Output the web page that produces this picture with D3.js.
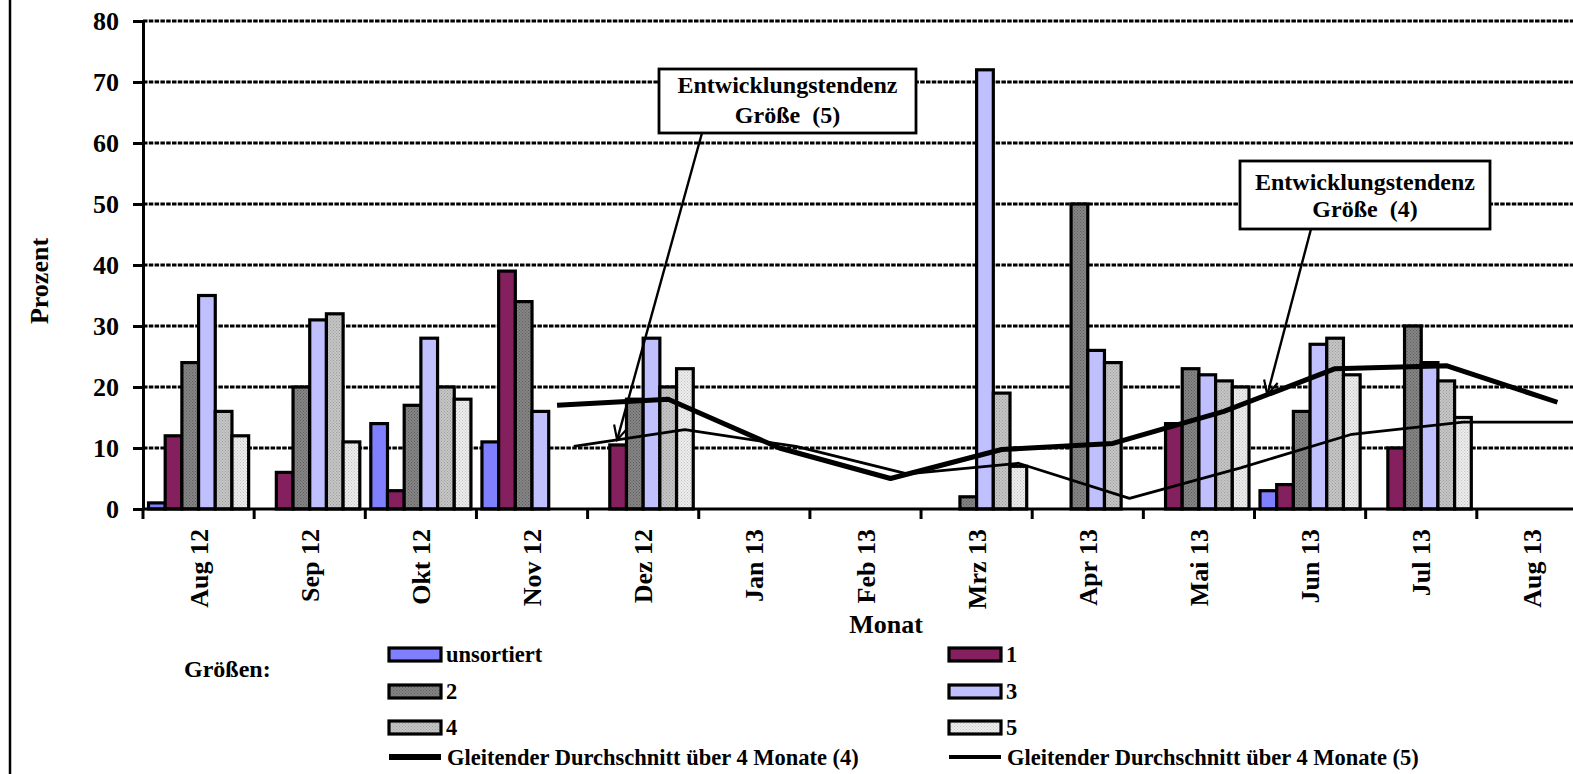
<!DOCTYPE html>
<html><head><meta charset="utf-8">
<script src="https://cdn.jsdelivr.net/npm/d3@7"></script>
<style>
body{margin:0;background:#fff}
svg{display:block}
text{font-family:"Liberation Serif","Times New Roman",serif;font-weight:bold;fill:#000}
</style>
</head><body>
<svg id="chart" width="1573" height="774"></svg>
<script>
// ---------- data ----------
const months = ["Aug 12","Sep 12","Okt 12","Nov 12","Dez 12","Jan 13","Feb 13","Mrz 13","Apr 13","Mai 13","Jun 13","Jul 13","Aug 13"];
const seriesNames = ["unsortiert","1","2","3","4","5"];
const valUnsortiert = [1,null,14,11,null,null,null,null,null,null,3,null,null];
const valSize1      = [12,6,3,39,10.5,null,null,null,null,14,4,10,null];
const valSize2      = [24,20,17,34,18,null,null,2,50,23,16,30,null];
const valSize3      = [35,31,28,16,28,null,null,72,26,22,27,24,null];
const valSize4      = [16,32,20,null,20,null,null,19,24,21,28,21,null];
const valSize5      = [12,11,18,null,23,null,null,7,null,20,22,15,null];
const movAvg4       = [null,null,null,17,18,10,5,9.75,10.75,16,23,23.5,17.5];
const movAvg5       = [null,null,null,10.25,13,10.25,5.75,7.5,1.75,6.75,12.25,14.25,14.25];
const yTicks = [0,10,20,30,40,50,60,70,80];
const legendTitle = "Größen:";
const legendLineLabels = ["Gleitender Durchschnitt über 4 Monate (4)","Gleitender Durchschnitt über 4 Monate (5)"];
const annoLabels = [["Entwicklungstendenz","Größe  (5)"],["Entwicklungstendenz","Größe  (4)"]];

const seriesValues = [valUnsortiert,valSize1,valSize2,valSize3,valSize4,valSize5];
const fills = ["#8080ff","#85205e","url(#pat2)","#c0c0ff","url(#pat4)","url(#pat5)"];

// ---------- layout ----------
const svg = d3.select("#chart");
const W = 1573, H = 774;
const x0 = 143, plotRight = 143 + 13*111.15;
const x = d3.scaleBand().domain(months).range([x0, plotRight]).paddingInner(0).paddingOuter(0);
const bw = x.bandwidth();
const x1 = d3.scaleBand().domain(seriesNames).range([5.5, bw-5.5]).padding(0);
const y = d3.scaleLinear().domain([0,80]).range([509,21]);

// patterns
const defs = svg.append("defs");
function dotPattern(id, base, dot){
  const p = defs.append("pattern").attr("id",id).attr("patternUnits","userSpaceOnUse").attr("width",3).attr("height",3);
  p.append("rect").attr("width",3).attr("height",3).attr("fill",base);
  p.append("rect").attr("x",0).attr("y",0).attr("width",1).attr("height",1).attr("fill",dot);
  p.append("rect").attr("x",1.5).attr("y",1.5).attr("width",1).attr("height",1).attr("fill",dot);
}
dotPattern("pat2","#858585","#5e5e5e");
dotPattern("pat4","#c6c6c6","#9c9c9c");
dotPattern("pat5","#ededed","#c2c2c2");
defs.append("marker").attr("id","arrow").attr("markerUnits","userSpaceOnUse")
  .attr("markerWidth",20).attr("markerHeight",20).attr("refX",15).attr("refY",8).attr("orient","auto")
  .append("path").attr("d","M1,1 L15,8 L1,15").attr("fill","none").attr("stroke","#000").attr("stroke-width",2.2);

// left border
svg.append("line").attr("x1",10).attr("x2",10).attr("y1",0).attr("y2",H).attr("stroke","#000").attr("stroke-width",2.5);

// gridlines
svg.append("g").selectAll("line").data(yTicks.filter(d=>d>0)).join("line")
  .attr("x1",x0).attr("x2",W).attr("y1",d=>y(d)).attr("y2",d=>y(d))
  .attr("stroke","#000").attr("stroke-width",3).attr("stroke-dasharray","4.5,1.3");

// y axis
const yAxis = svg.append("g").attr("transform",`translate(${x0},0)`)
  .call(d3.axisLeft(y).tickValues(yTicks).tickSize(10).tickSizeOuter(0).tickPadding(14));
yAxis.select(".domain").attr("stroke","#000").attr("stroke-width",3);
yAxis.selectAll(".tick line").attr("stroke","#000").attr("stroke-width",3);
yAxis.selectAll(".tick text").style("font-size","26px").style("font-family","'Liberation Serif',serif").style("font-weight","bold");

// bars
const barG = svg.append("g");
seriesNames.forEach((s,i)=>{
  barG.append("g").selectAll("rect")
    .data(months.map((m,j)=>({m,v:seriesValues[i][j]})).filter(d=>d.v!=null))
    .join("rect")
    .attr("x",d=>x(d.m)+x1(s)).attr("width",x1.bandwidth())
    .attr("y",d=>y(d.v)).attr("height",d=>y(0)-y(d.v))
    .attr("fill",fills[i]).attr("stroke","#000").attr("stroke-width",3.2);
});

// x axis
svg.append("line").attr("x1",x0).attr("x2",W).attr("y1",y(0)).attr("y2",y(0)).attr("stroke","#000").attr("stroke-width",3);
const bounds = months.map(m=>x(m)).concat([x(months[months.length-1])+bw]);
svg.append("g").selectAll("line").data(bounds).join("line")
  .attr("x1",d=>d).attr("x2",d=>d).attr("y1",y(0)).attr("y2",y(0)+10)
  .attr("stroke","#000").attr("stroke-width",3);
svg.append("g").selectAll("text").data(months).join("text")
  .attr("transform",d=>`translate(${x(d)+bw/2},529) rotate(-90)`)
  .attr("text-anchor","end").attr("dy","0.35em").style("font-size","26px").style("white-space","pre")
  .text(d=>d);

// axis titles
svg.append("text").attr("transform","translate(39,281) rotate(-90)").attr("text-anchor","middle")
  .attr("dy","0.35em").style("font-size","26px").text("Prozent");
svg.append("text").attr("x",886).attr("y",633).attr("text-anchor","middle").style("font-size","26px").text("Monat");

// moving average lines
const lineFor = (serie, arr) => d3.line()
  .defined(d=>d!=null)
  .x((d,j)=>x(months[j])+x1(serie)+x1.bandwidth()/2)
  .y(d=>y(d))(arr);
svg.append("path").attr("d",lineFor("4",movAvg4)).attr("fill","none").attr("stroke","#000").attr("stroke-width",5).attr("stroke-linejoin","round");
svg.append("path").attr("d",lineFor("5",movAvg5)).attr("fill","none").attr("stroke","#000").attr("stroke-width",2.8).attr("stroke-linejoin","round");

// annotations
function pointOn(serie, arr, j, t){
  const xa = x(months[j])+x1(serie)+x1.bandwidth()/2, xb = x(months[j+1])+x1(serie)+x1.bandwidth()/2;
  return [xa+(xb-xa)*t, y(arr[j]+(arr[j+1]-arr[j])*t)];
}
const annos = [
  {box:[659,69,257,64], from:[702,133], to:pointOn("5",movAvg5,3,0.39), lines:annoLabels[0], base:[93,123]},
  {box:[1240,161,250,68], from:[1311,229], to:pointOn("4",movAvg4,9,0.39), lines:annoLabels[1], base:[190,217]}
];
annos.forEach(a=>{
  svg.append("line").attr("x1",a.from[0]).attr("y1",a.from[1]).attr("x2",a.to[0]).attr("y2",a.to[1])
    .attr("stroke","#000").attr("stroke-width",2.4).attr("marker-end","url(#arrow)");
  svg.append("rect").attr("x",a.box[0]).attr("y",a.box[1]).attr("width",a.box[2]).attr("height",a.box[3])
    .attr("fill","#fff").attr("stroke","#000").attr("stroke-width",2.8);
  a.lines.forEach((t,k)=>{
    svg.append("text").attr("x",a.box[0]+a.box[2]/2).attr("y",a.base[k]).attr("text-anchor","middle")
      .style("font-size","24px").style("white-space","pre").text(t);
  });
});

// legend
svg.append("text").attr("x",184).attr("y",677).style("font-size","24px").text(legendTitle);
const legCols = [389,949], legRows = [648,685,721];
seriesNames.forEach((s,i)=>{
  const cx = legCols[i%2], cy = legRows[Math.floor(i/2)];
  svg.append("rect").attr("x",cx).attr("y",cy).attr("width",52).attr("height",13)
    .attr("fill",fills[i]).attr("stroke","#000").attr("stroke-width",3.2);
  svg.append("text").attr("x",cx+57).attr("y",cy+14).style("font-size","22.5px").text(s);
});
[5,3].forEach((w,k)=>{
  const cx = legCols[k];
  svg.append("line").attr("x1",cx).attr("x2",cx+52).attr("y1",757).attr("y2",757).attr("stroke","#000").attr("stroke-width",w+1);
  svg.append("text").attr("x",cx+58).attr("y",765).style("font-size","22.5px").style("white-space","pre").text(legendLineLabels[k]);
});
</script>
</body></html>
